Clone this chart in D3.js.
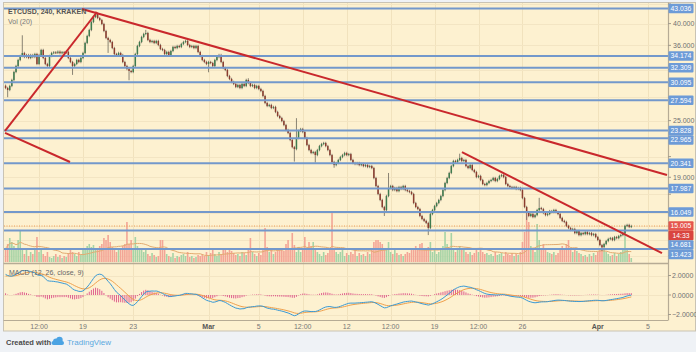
<!DOCTYPE html>
<html>
<head>
<meta charset="utf-8">
<script src="https://cdn.jsdelivr.net/npm/d3@7"></script>
<style>
  html, body { margin: 0; padding: 0; background: #eff2f6; }
  svg { display: block; font-family: "Liberation Sans", Arial, sans-serif; }
</style>
</head>
<body>
<svg id="chart" width="696" height="352"></svg>
<script>
// ETCUSD 4h candles, first bar opens 2018-02-12 20:00 UTC
const startTime = Date.UTC(2018, 1, 12, 20);
const barHours = 4;
const firstOpen = 29.6;

const closes = [
    29.28, 29.00, 29.57, 30.44, 31.64, 32.57, 33.53, 34.19, 34.69, 34.02,
    34.35, 33.86, 34.35, 34.02, 34.52, 32.89, 34.35, 35.20, 33.86, 32.89,
    32.57, 34.19, 34.69, 34.80, 34.72, 34.91, 34.66, 34.83, 34.75, 34.88,
    33.86, 33.21, 32.57, 32.89, 33.53, 33.21, 33.86, 34.69, 36.42, 37.67,
    38.78, 40.31, 41.30, 41.90, 41.10, 40.70, 39.92, 38.59, 37.31, 36.95,
    36.59, 35.54, 34.52, 34.35, 34.69, 34.35, 33.21, 32.57, 32.10, 31.80,
    31.64, 32.57, 34.52, 35.89, 36.59, 37.49, 38.04, 38.22, 36.95, 36.59,
    36.77, 36.42, 36.77, 36.06, 35.37, 35.20, 34.52, 34.86, 34.35, 35.03,
    35.72, 35.54, 35.89, 35.72, 36.24, 36.59, 36.77, 36.06, 35.72, 35.89,
    35.54, 35.89, 34.86, 34.19, 33.53, 33.21, 32.89, 33.21, 33.05, 32.57,
    33.53, 34.02, 34.35, 33.21, 32.26, 31.95, 31.03, 30.59, 30.15, 29.86,
    29.43, 29.71, 29.28, 29.86, 29.57, 30.44, 30.00, 29.57, 29.71, 29.28,
    29.57, 29.14, 28.86, 28.17, 27.23, 26.84, 26.97, 26.58, 26.71, 26.07,
    25.57, 25.32, 24.95, 24.47, 23.89, 23.55, 22.76, 21.99, 21.78, 22.98,
    23.78, 24.00, 23.66, 22.98, 22.21, 21.68, 21.37, 21.47, 21.16, 21.68,
    22.10, 22.32, 22.43, 22.10, 21.68, 21.16, 20.46, 20.16, 20.36, 20.66,
    20.96, 21.16, 21.37, 21.16, 21.26, 20.66, 20.36, 20.26, 20.36, 20.16,
    20.26, 20.06, 20.16, 19.97, 20.06, 19.87, 18.93, 18.21, 17.52, 17.02,
    16.45, 16.21, 17.35, 18.04, 18.21, 17.86, 18.04, 17.77, 18.12, 17.95,
    18.21, 17.86, 17.77, 17.69, 17.52, 16.77, 16.45, 16.29, 15.75, 15.52,
    15.38, 15.23, 14.86, 15.90, 16.21, 16.53, 16.77, 17.02, 17.35, 17.86,
    18.48, 18.93, 19.40, 20.06, 20.56, 20.46, 20.66, 20.86, 20.56, 20.66,
    20.06, 19.87, 20.16, 19.68, 19.49, 19.02, 19.12, 18.75, 18.39, 18.30,
    18.48, 18.66, 18.75, 18.93, 18.66, 18.84, 19.12, 19.21, 19.02, 18.39,
    18.21, 18.12, 18.04, 18.12, 17.95, 18.04, 17.86, 17.18, 16.45, 15.98,
    15.75, 15.90, 15.67, 15.82, 16.21, 16.37, 16.29, 15.98, 15.82, 15.90,
    16.13, 16.05, 16.21, 16.05, 15.90, 15.60, 15.38, 15.30, 15.01, 14.86,
    14.72, 14.79, 14.50, 14.65, 14.36, 14.50, 14.43, 14.57, 14.43, 14.50,
    14.36, 14.43, 14.22, 14.02, 13.68, 13.55, 13.75, 13.95, 14.09, 14.15,
    14.02, 14.22, 14.15, 14.29, 14.36, 14.50, 15.01, 15.08, 14.94, 15.005
];

const volumes = [
    140, 180, 240, 200, 160, 120, 220, 320, 120, 80,
    140, 60, 100, 80, 120, 250, 100, 140, 80, 60,
    100, 50, 40, 60, 80, 50, 70, 40, 60, 50,
    90, 120, 100, 80, 60, 100, 70, 120, 140, 160,
    180, 150, 170, 140, 120, 160, 180, 240, 220, 270,
    200, 150, 120, 100, 140, 120, 160, 180, 400, 180,
    220, 140, 250, 160, 120, 140, 100, 120, 80, 60,
    90, 70, 50, 60, 220, 220, 140, 80, 60, 50,
    90, 40, 60, 50, 70, 80, 60, 100, 50, 60,
    40, 50, 70, 60, 80, 60, 100, 70, 90, 120,
    80, 60, 100, 80, 140, 120, 100, 130, 110, 90,
    70, 80, 60, 100, 90, 70, 120, 240, 100, 80,
    60, 90, 70, 120, 340, 150, 100, 120, 80, 100,
    140, 120, 140, 110, 180, 220, 120, 290, 170, 100,
    150, 100, 140, 250, 120, 200, 160, 200, 140, 100,
    80, 60, 100, 70, 90, 140, 490, 140, 100, 80,
    100, 120, 60, 90, 70, 100, 80, 120, 60, 90,
    70, 80, 60, 100, 80, 140, 200, 220, 220, 200,
    180, 140, 120, 200, 100, 80, 120, 90, 70, 80,
    60, 80, 100, 90, 120, 140, 160, 120, 180, 190,
    140, 120, 150, 200, 100, 120, 80, 100, 140, 160,
    300, 180, 120, 290, 140, 100, 120, 160, 140, 120,
    100, 80, 100, 70, 90, 120, 100, 140, 100, 80,
    90, 70, 80, 60, 100, 70, 80, 90, 60, 100,
    80, 70, 90, 60, 80, 70, 100, 200, 300, 490,
    400, 160, 120, 100, 380, 220, 140, 180, 120, 100,
    90, 80, 100, 70, 90, 120, 160, 140, 180, 220,
    120, 100, 140, 110, 90, 80, 60, 70, 50, 80,
    60, 90, 70, 100, 140, 160, 140, 100, 80, 60,
    70, 90, 60, 80, 100, 120, 290, 140, 80, 40
];

// long wicks that stand out in the picture: [bar index, price]
const wickHighs = [[8, 37.8], [43, 42.4], [67, 38.8], [116, 30.7], [139, 25.3], [183, 19.4], [217, 21.3], [255, 17.2]];
const wickLows = [[1, 28.0], [32, 31.2], [49, 34.7], [59, 30.4], [97, 31.6], [138, 20.5], [148, 20.4], [157, 19.9],
    [181, 15.75], [202, 14.36], [249, 15.45], [285, 13.3]];

const levels = [43.036, 34.174, 32.309, 30.095, 27.594, 23.828, 22.965, 20.341, 17.987, 16.049, 14.681, 13.423];
const lastPrice = 15.005;
const countdown = '14:33';

const trendLines = [
    [['2018-02-12T19:00Z', 23.78], ['2018-02-20T02:45Z', 42.31]],
    [['2018-02-12T19:00Z', 23.55], ['2018-02-17T23:10Z', 20.46]],
    [['2018-02-18T22:05Z', 42.93], ['2018-04-06T12:15Z', 19.21]],
    [['2018-03-21T04:20Z', 21.47], ['2018-04-06T02:40Z', 13.16]]
];

const priceTicks = [44, 40, 36, 32, 28, 25, 23, 21, 19, 17.5, 16, 15, 14, 13];
const macdTicks = [2, 0, -2];
const timeTicks = [
    ['2018-02-15T12:00Z', '12:00'], ['2018-02-19T00:00Z', '19'], ['2018-02-23T00:00Z', '23'],
    ['2018-03-01T00:00Z', 'Mar'], ['2018-03-05T00:00Z', '5'], ['2018-03-08T12:00Z', '12:00'],
    ['2018-03-12T00:00Z', '12'], ['2018-03-15T12:00Z', '12:00'], ['2018-03-19T00:00Z', '19'],
    ['2018-03-22T12:00Z', '12:00'], ['2018-03-26T00:00Z', '26'], ['2018-04-01T00:00Z', 'Apr'],
    ['2018-04-05T00:00Z', '5']
];

// ema state just before the first visible bar (MACD ~2.2 at the left edge)
const macdStart = {fast: 28.3, slow: 26.1, signal: 1.9};

const svg = d3.select('#chart');

const left = 4, right = 668;
const mainTop = 3, mainBottom = 263, macdTop = 264, macdBottom = 320;

const x = d3.scaleUtc()
    .domain([new Date(Date.UTC(2018, 1, 12, 18, 55)), new Date(Date.UTC(2018, 3, 6, 14, 11))])
    .range([5, 668]);

const y = d3.scaleLog()
    .domain([13.423, 43.036])
    .range([249, 8.5]);

const yVol = d3.scaleLinear()
    .domain([0, 500])
    .range([262, 212]);

const yMacd = d3.scaleLinear()
    .domain([-2, 2])
    .range([314.5, 275.5]);

// bars
const hiMap = new Map(wickHighs);
const loMap = new Map(wickLows);
const bars = closes.map((c, i) => {
    const o = i === 0 ? firstOpen : closes[i - 1];
    return {
        t: new Date(startTime + i * barHours * 3600 * 1000),
        o: o,
        c: c,
        h: hiMap.get(i),
        l: loMap.get(i),
        v: volumes[i],
        up: c >= o
    };
});

// MACD 12/26/9
const kFast = 2 / 13, kSlow = 2 / 27, kSig = 2 / 10;
let ef = macdStart.fast, es = macdStart.slow, sig = macdStart.signal;
bars.forEach(b => {
    ef = b.c * kFast + ef * (1 - kFast);
    es = b.c * kSlow + es * (1 - kSlow);
    b.macd = ef - es;
    sig = b.macd * kSig + sig * (1 - kSig);
    b.signal = sig;
    b.hist = b.macd - sig;
});

// volume moving average (20)
bars.forEach((b, i) => {
    b.vma = d3.mean(volumes.slice(Math.max(0, i - 19), i + 1));
});

// frame
svg.append('rect')
    .attr('x', 3.5).attr('y', 2.5)
    .attr('width', 692).attr('height', 328.5)
    .attr('fill', '#fdf1d0')
    .attr('stroke', '#c9c3b4');

// grid
svg.append('g')
    .selectAll('line')
    .data(timeTicks)
    .join('line')
    .attr('x1', d => Math.round(x(new Date(d[0]))) + 0.5)
    .attr('x2', d => Math.round(x(new Date(d[0]))) + 0.5)
    .attr('y1', mainTop)
    .attr('y2', macdBottom)
    .attr('stroke', '#f1e2bd')
    .attr('stroke-width', 1);

svg.append('g')
    .selectAll('line')
    .data(priceTicks)
    .join('line')
    .attr('x1', left)
    .attr('x2', right)
    .attr('y1', d => Math.round(y(d)) + 0.5)
    .attr('y2', d => Math.round(y(d)) + 0.5)
    .attr('stroke', '#f3e5c3');

svg.append('g')
    .selectAll('line')
    .data(macdTicks)
    .join('line')
    .attr('x1', left)
    .attr('x2', right)
    .attr('y1', d => Math.round(yMacd(d)) + 0.5)
    .attr('y2', d => Math.round(yMacd(d)) + 0.5)
    .attr('stroke', '#f3e5c3');

// volume bars
svg.append('g')
    .selectAll('rect')
    .data(bars)
    .join('rect')
    .attr('x', d => x(d.t) - 0.8)
    .attr('y', d => yVol(d.v))
    .attr('width', 1.6)
    .attr('height', d => yVol(0) - yVol(d.v))
    .attr('fill', d => d.up ? '#a6d3a6' : '#f3a596');

const vmaLine = d3.line()
    .x(d => x(d.t))
    .y(d => yVol(d.vma));

svg.append('path')
    .attr('d', vmaLine(bars))
    .attr('fill', 'none')
    .attr('stroke', '#e3ab70')
    .attr('stroke-width', 1);

// last price dotted line
svg.append('line')
    .attr('x1', left)
    .attr('x2', right)
    .attr('y1', y(lastPrice))
    .attr('y2', y(lastPrice))
    .attr('stroke', '#ee9c55')
    .attr('stroke-width', 1)
    .attr('stroke-dasharray', '1,1.5');

// candles
const candles = svg.append('g');
bars.forEach(b => {
    const cx = x(b.t);
    const top = y(Math.max(b.o, b.c));
    const bottom = y(Math.min(b.o, b.c));
    const hiY = b.h !== undefined ? y(b.h) : top - 1.2;
    const loY = b.l !== undefined ? y(b.l) : bottom + 1.2;
    const col = b.up ? '#3f7b4e' : '#8b3d2f';
    candles.append('line')
        .attr('x1', cx).attr('x2', cx)
        .attr('y1', hiY).attr('y2', loY)
        .attr('stroke', '#6c675c')
        .attr('stroke-width', 0.8);
    candles.append('rect')
        .attr('x', cx - 0.75)
        .attr('y', top)
        .attr('width', 1.5)
        .attr('height', Math.max(0.9, bottom - top))
        .attr('fill', col);
});

// horizontal levels
svg.append('g')
    .selectAll('line')
    .data(levels)
    .join('line')
    .attr('x1', left)
    .attr('x2', right)
    .attr('y1', d => y(d))
    .attr('y2', d => y(d))
    .attr('stroke', '#7398cb')
    .attr('stroke-width', 2);

// trend lines
svg.append('g')
    .selectAll('line')
    .data(trendLines)
    .join('line')
    .attr('x1', d => x(new Date(d[0][0])))
    .attr('y1', d => y(d[0][1]))
    .attr('x2', d => x(new Date(d[1][0])))
    .attr('y2', d => y(d[1][1]))
    .attr('stroke', '#c9282c')
    .attr('stroke-width', 2);

// MACD pane
svg.append('g')
    .selectAll('line')
    .data(bars)
    .join('line')
    .attr('x1', d => x(d.t))
    .attr('x2', d => x(d.t))
    .attr('y1', yMacd(0))
    .attr('y2', d => yMacd(d.hist))
    .attr('stroke', '#e0608f')
    .attr('stroke-width', 1);

const signalLine = d3.line().x(d => x(d.t)).y(d => yMacd(d.signal));
const macdLine = d3.line().x(d => x(d.t)).y(d => yMacd(d.macd));

svg.append('path')
    .attr('d', signalLine(bars))
    .attr('fill', 'none')
    .attr('stroke', '#efa04c')
    .attr('stroke-width', 1);

svg.append('path')
    .attr('d', macdLine(bars))
    .attr('fill', 'none')
    .attr('stroke', '#3b9ad4')
    .attr('stroke-width', 1);

// pane separators and price axis border
svg.append('line')
    .attr('x1', 3.5).attr('x2', right)
    .attr('y1', 263.5).attr('y2', 263.5)
    .attr('stroke', '#b6ab95').attr('stroke-width', 1.5);
svg.append('line')
    .attr('x1', 3.5).attr('x2', right)
    .attr('y1', 320.5).attr('y2', 320.5)
    .attr('stroke', '#b6ab95').attr('stroke-width', 1.2);
svg.append('line')
    .attr('x1', right + 0.5).attr('x2', right + 0.5)
    .attr('y1', 2.5).attr('y2', 320.5)
    .attr('stroke', '#b6ab95').attr('stroke-width', 1.2);

// price badges, pushed down when they would overlap
const badges = levels.map(l => ({y: y(l), text: d3.format('.3f')(l), fill: '#6d9bd7'}));
badges.push({y: y(lastPrice), text: d3.format('.3f')(lastPrice), fill: '#e5564d', order: 0});
badges.push({y: y(lastPrice), text: countdown, fill: '#d9453f', order: 1});
badges.sort((a, b) => a.y - b.y || (a.order || 0) - (b.order || 0));
for(let i = 1; i < badges.length; i++) {
    if(badges[i].y < badges[i - 1].y + 9.5) {
        badges[i].y = badges[i - 1].y + 9.5;
    }
}

// price axis ticks (the ones a badge sits on are hidden, as on the chart)
const axisText = '#707070';
const priceAxis = svg.append('g');
priceTicks.forEach(t => {
    const ty = y(t);
    priceAxis.append('line')
        .attr('x1', right).attr('x2', right + 3)
        .attr('y1', ty).attr('y2', ty)
        .attr('stroke', '#a09a8c');
    const covered = badges.some(b => Math.abs(b.y - ty) < 9.5);
    if(!covered) {
        priceAxis.append('text')
            .attr('x', 673)
            .attr('y', ty + 2.5)
            .attr('font-size', 7)
            .attr('fill', axisText)
            .text(d3.format('.3f')(t));
    }
});

macdTicks.forEach(t => {
    const ty = yMacd(t);
    priceAxis.append('line')
        .attr('x1', right).attr('x2', right + 3)
        .attr('y1', ty).attr('y2', ty)
        .attr('stroke', '#a09a8c');
    priceAxis.append('text')
        .attr('x', 672)
        .attr('y', ty + 2.5)
        .attr('font-size', 7)
        .attr('fill', axisText)
        .text(d3.format('.4f')(t));
});

const badgeG = svg.append('g');
badges.forEach(b => {
    badgeG.append('rect')
        .attr('x', 668.5)
        .attr('y', b.y - 4.75)
        .attr('width', 25)
        .attr('height', 9.5)
        .attr('rx', 1)
        .attr('fill', b.fill);
    badgeG.append('text')
        .attr('x', 681)
        .attr('y', b.y + 2.4)
        .attr('text-anchor', 'middle')
        .attr('font-size', 6.8)
        .attr('fill', 'white')
        .text(b.text);
});

// time axis labels
svg.append('g')
    .selectAll('text')
    .data(timeTicks)
    .join('text')
    .attr('x', d => x(new Date(d[0])))
    .attr('y', 328.5)
    .attr('text-anchor', 'middle')
    .attr('font-size', 7)
    .attr('font-weight', d => isNaN(+d[1].replace(':', '')) ? 'bold' : 'normal')
    .attr('fill', d => isNaN(+d[1].replace(':', '')) ? '#555' : '#777')
    .text(d => d[1]);

// legends
svg.append('text')
    .attr('x', 8).attr('y', 14)
    .attr('font-size', 7).attr('font-weight', 'bold')
    .attr('fill', '#555')
    .text('ETCUSD, 240, KRAKEN');
svg.append('text')
    .attr('x', 8).attr('y', 24)
    .attr('font-size', 7)
    .attr('fill', '#777')
    .text('Vol (20)');
svg.append('text')
    .attr('x', 9).attr('y', 275)
    .attr('font-size', 7)
    .attr('fill', '#666')
    .text('MACD (12, 26, close, 9)');

// footer
svg.append('text')
    .attr('x', 6).attr('y', 345)
    .attr('font-size', 7.5)
    .attr('font-weight', 'bold')
    .attr('fill', '#4a4a4a')
    .text('Created with');

const logo = svg.append('g').attr('fill', '#4ba3e3');
logo.append('circle').attr('cx', 56).attr('cy', 341.5).attr('r', 3);
logo.append('circle').attr('cx', 59.5).attr('cy', 340).attr('r', 3.2);
logo.append('rect').attr('x', 51.5).attr('y', 341).attr('width', 12.5).attr('height', 4).attr('rx', 2);

svg.append('text')
    .attr('x', 67).attr('y', 345)
    .attr('font-size', 8)
    .attr('fill', '#5aa8e0')
    .text('TradingView');
</script>
</body>
</html>
